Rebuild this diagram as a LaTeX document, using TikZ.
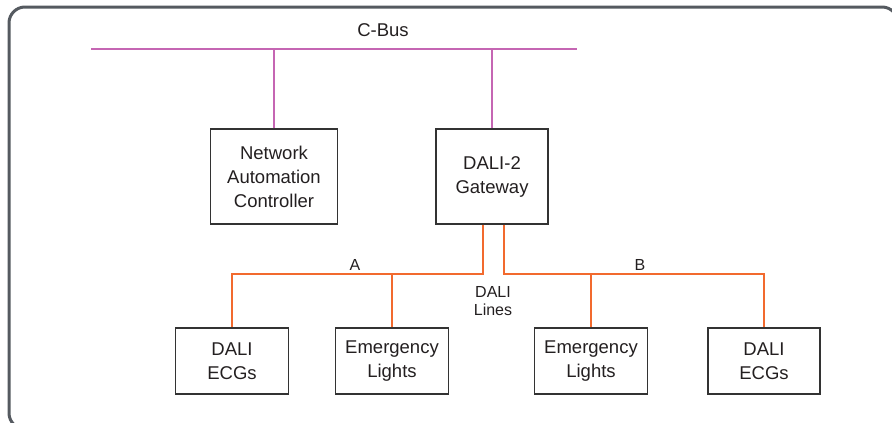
\documentclass[tikz,border=0pt]{standalone}
\usepackage{fontspec}
\setmainfont{Liberation Sans}
\definecolor{framegray}{HTML}{555A60}
\definecolor{cbuscol}{HTML}{C566B3}
\definecolor{dalicol}{HTML}{F26A2E}
\definecolor{boxline}{HTML}{333333}
\definecolor{txt}{HTML}{231F20}
\begin{document}
\begin{tikzpicture}[x=1pt,y=-1pt,
  devbox/.style={draw=boxline,line width=1.4pt,inner sep=0pt,align=center,text=txt,
    font=\fontsize{18.5}{24}\selectfont},
  lbl/.style={inner sep=0pt,align=center,text=txt,font=\fontsize{16}{18}\selectfont},
  cbusline/.style={draw=cbuscol,line width=1.6pt},
  daliline/.style={draw=dalicol,line width=1.6pt}]
\useasboundingbox (0,0) rectangle (892,423);
\draw[framegray,line width=3pt,rounded corners=16pt] (9,7) rectangle (898,429);

% C-Bus
\coordinate (cbL) at (91,49);
\coordinate (cbR) at (577,49);
\draw[cbusline] (cbL) -- (cbR);
\node[lbl,font=\fontsize{18.5}{22}\selectfont] (cbus) at (383,30) {C-Bus};

% upper boxes
\node[devbox,minimum width=127pt,minimum height=95pt] (nac) at (274,176.5) {Network\\Automation\\Controller};
\node[devbox,minimum width=112pt,minimum height=95pt] (gw) at (492,176.5) {DALI-2\\Gateway};
\draw[cbusline] (nac.north) -- (nac.north |- cbL);
\draw[cbusline] (gw.north) -- (gw.north |- cbL);

% lower boxes
\node[devbox,minimum width=113pt,minimum height=66pt] (ecgL) at (232,361) {DALI\\ECGs};
\node[devbox,minimum width=113pt,minimum height=66pt] (elL) at (392,361) {Emergency\\Lights};
\node[devbox,minimum width=113pt,minimum height=66pt] (elR) at (591,361) {Emergency\\Lights};
\node[devbox,minimum width=112pt,minimum height=66pt] (ecgR) at (764,361) {DALI\\ECGs};

% DALI lines
\coordinate (gwA) at ([xshift=-9pt]gw.south);
\coordinate (gwB) at ([xshift=12pt]gw.south);
\coordinate (lineA) at (483,274);
\coordinate (lineB) at (504,274);
\draw[daliline] (gwA) -- (lineA) -| (ecgL.north);
\draw[daliline] (elL.north) -- (elL.north |- lineA);
\draw[daliline] (gwB) -- (lineB) -| (ecgR.north);
\draw[daliline] (elR.north) -- (elR.north |- lineB);

\node[lbl] (la) at (355,265) {A};
\node[lbl] (lb) at (640,265) {B};
\node[lbl] (dl) at (493,301.5) {DALI\\Lines};
\end{tikzpicture}
\end{document}
